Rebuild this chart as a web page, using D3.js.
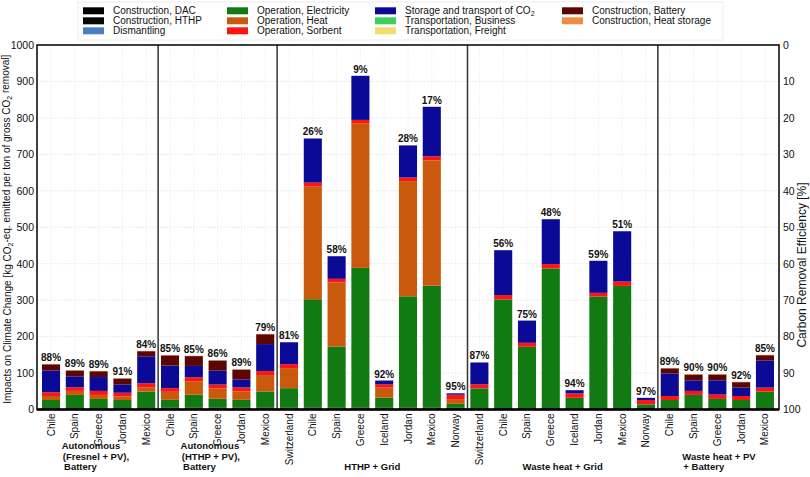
<!DOCTYPE html>
<html><head><meta charset="utf-8">
<script src="https://cdn.jsdelivr.net/npm/d3@7"></script>
<style>
html,body{margin:0;padding:0;background:#fff;}
svg{display:block;font-family:"Liberation Sans",Arial,sans-serif;}
</style></head>
<body><svg id="chart" width="810" height="477"></svg>
<script>
// ---------- DATA ----------
const categories = [
  "Chile","Spain","Greece","Jordan","Mexico",
  "Chile","Spain","Greece","Jordan","Mexico",
  "Switzerland","Chile","Spain","Greece","Iceland","Jordan","Mexico","Norway",
  "Switzerland","Chile","Spain","Greece","Iceland","Jordan","Mexico","Norway",
  "Chile","Spain","Greece","Jordan","Mexico"
];
const groupSizes = [5, 5, 8, 8, 5];
const groupLabels = [
  ["Autonomous", "(Fresnel + PV),", "Battery"],
  ["Autonomous", "(HTHP + PV),", "Battery"],
  ["HTHP + Grid"],
  ["Waste heat + Grid"],
  ["Waste heat + PV", "+ Battery"]
];
const constructionDAC = [4,4,4,4,4, 4,4,4,4,4, 4,4,4,4,4,4,4,4, 4,4,4,4,4,4,4,4, 4,4,4,4,4];
const constructionHTHP = [0,0,0,0,0, 0.5,0.5,0.5,0.5,0.5, 0.5,0.5,0.5,0.5,0.5,0.5,0.5,0.5, 0,0,0,0,0,0,0,0, 0,0,0,0,0];
const dismantling = [0,0,0,0,0, 0,0,0,0,0, 0,0,0,0,0,0,0,0, 0,0,0,0,0,0,0,0, 0,0,0,0,0];
const opElectricity = [22,36,25,22,45, 22,36,25,22,45, 54,298,168,384,28,306,335,11, 54,298,168,383,28,306,335,10, 22,36,25,22,45];
const opHeat = [11,11,11,10,12, 22,37,28,23,45, 55,309,176,397,28,316,344,13, 0,0,0,0,0,0,0,0, 0,0,0,0,0];
const opSorbent = [10,10,11,10,11, 10,11,11,11,11, 11,11,10,9,9,10,11,12, 11,12,11,12,12,10,12,12, 11,11,12,11,11];
const storageCO2 = [60,30,38,23,74, 62,31,38,22,74, 60,121,62,121,10,88,136,4, 60,123,61,123,9,88,138,6, 62,29,39,23,74];
const transBusiness = [0,0,0,0,0, 0,0,0,0,0, 0,0,0,0,0,0,0,0, 0,0,0,0,0,0,0,0, 0,0,0,0,0];
const transFreight = [0,0,0,0,0, 0,0,0,0,0, 0,0,0,0,0,0,0,0, 0,0,0,0,0,0,0,0, 0,0,0,0,0];
const constructionBattery = [17,16,16,16,14, 28,27,28,27,27, 0,0,0,0,0,0,0,0, 0,0,0,0,0,0,0,0, 14,16,16,15,15];
const constructionHeatStorage = [1,1,1,1,1, 1,1,1,1,1, 0,0,0,0,0,0,0,0, 0,0,0,0,0,0,0,0, 1,1,1,1,1];
const efficiency = [88,89,89,91,84, 85,85,86,89,79, 81,26,58,9,92,28,17,95, 87,56,75,48,94,59,51,97, 89,90,90,92,85];
const leftTicks = [0,100,200,300,400,500,600,700,800,900,1000];
const rightTicks = [0,10,20,30,40,50,60,70,80,90,100];

const seriesNames = ["Construction, DAC","Construction, HTHP","Dismantling","Operation, Electricity","Operation, Heat","Operation, Sorbent","Storage and transport of CO2","Transportation, Business","Transportation, Freight","Construction, Battery","Construction, Heat storage"];
const seriesValues = [constructionDAC,constructionHTHP,dismantling,opElectricity,opHeat,opSorbent,storageCO2,transBusiness,transFreight,constructionBattery,constructionHeatStorage];
const seriesColors = ["#000000","#080808","#4a7fbf","#127a12","#c9590c","#ff1414","#0a0a96","#3ccf5a","#f5dc70","#5c0505","#f08c42"];
const legendColumns = [[0,1,2],[3,4,5],[6,7,8],[9,10]];

// ---------- LAYOUT ----------
const L = 37, R = 779, T = 45, B = 409.5;
const svg = d3.select("#chart");
const x = d3.scaleBand().domain(d3.range(categories.length)).range([L, R]).paddingInner(0.24).paddingOuter(0.21);
const y = d3.scaleLinear().domain([0, 1000]).range([B, T]);
const yR = d3.scaleLinear().domain([0, 100]).range([T, B]);

// grid
const grid = svg.append("g");
grid.selectAll("line.h").data(leftTicks).join("line")
  .attr("x1", L).attr("x2", R).attr("y1", d => y(d)).attr("y2", d => y(d))
  .attr("stroke", "#e6e6e6").attr("stroke-width", 0.8).attr("stroke-dasharray", "2,1");
grid.selectAll("line.v").data(d3.range(categories.length)).join("line")
  .attr("x1", i => x(i) + x.bandwidth()/2).attr("x2", i => x(i) + x.bandwidth()/2)
  .attr("y1", T).attr("y2", B)
  .attr("stroke", "#efefef").attr("stroke-width", 0.8).attr("stroke-dasharray", "2,1");

// stacked data
const rows = categories.map((c, i) => {
  const o = {i};
  seriesNames.forEach((s, k) => o[s] = seriesValues[k][i]);
  return o;
});
const stack = d3.stack().keys(seriesNames)(rows);
const bars = svg.append("g");
stack.forEach((layer, k) => {
  bars.append("g").attr("fill", seriesColors[k])
    .selectAll("rect").data(layer.filter(d => d[1] - d[0] > 0)).join("rect")
    .attr("x", d => x(d.data.i)).attr("width", x.bandwidth())
    .attr("y", d => y(d[1])).attr("height", d => y(d[0]) - y(d[1]));
});

// totals & efficiency labels
const totals = rows.map((r, i) => d3.sum(seriesValues, s => s[i]));
svg.append("g").selectAll("text").data(efficiency).join("text")
  .attr("x", (d, i) => x(i) + x.bandwidth()/2)
  .attr("y", (d, i) => y(totals[i]) - 3)
  .attr("text-anchor", "middle").attr("font-size", 10).attr("font-weight", "bold").attr("fill", "#111")
  .text(d => d + "%");

// group separators
const bounds = d3.cumsum(groupSizes);
const sepX = Array.from(bounds).slice(0, -1).map(b => (x(b - 1) + x.bandwidth() + x(b)) / 2);
svg.append("g").selectAll("line").data(sepX).join("line")
  .attr("x1", d => d).attr("x2", d => d).attr("y1", T).attr("y2", B)
  .attr("stroke", "#333").attr("stroke-width", 1.5);

// spines
svg.append("rect").attr("x", L).attr("y", T).attr("width", R - L).attr("height", B - T)
  .attr("fill", "none").attr("stroke", "#000").attr("stroke-width", 1.5);
svg.append("line").attr("x1", L).attr("x2", R).attr("y1", B).attr("y2", B).attr("stroke", "#000").attr("stroke-width", 2.5);

// axes
const ax = svg.append("g").attr("transform", `translate(${L},0)`)
  .call(d3.axisLeft(y).tickValues(leftTicks).tickFormat(d3.format("d")).tickSize(0).tickPadding(3));
ax.select(".domain").remove();
ax.selectAll("text").attr("font-size", 10.5).attr("fill", "#111").attr("font-family", "Liberation Sans, Arial, sans-serif");
const axr = svg.append("g").attr("transform", `translate(${R},0)`)
  .call(d3.axisRight(yR).tickValues(rightTicks).tickFormat(d3.format("d")).tickSize(0).tickPadding(4));
axr.select(".domain").remove();
axr.selectAll("text").attr("font-size", 10.5).attr("fill", "#111").attr("font-family", "Liberation Sans, Arial, sans-serif");

// x labels
svg.append("g").selectAll("text").data(categories).join("text")
  .attr("transform", (d, i) => `translate(${x(i) + x.bandwidth()/2},${B + 4}) rotate(-90)`)
  .attr("text-anchor", "end").attr("dy", "0.35em").attr("font-size", 10).attr("fill", "#111")
  .text(d => d);

// group labels
const starts = [0, ...Array.from(bounds).slice(0, -1)];
groupLabels.forEach((lines, g) => {
  const cx = (x(starts[g]) + x(bounds[g] - 1) + x.bandwidth()) / 2;
  const lastY = 470;
  const multi = lines.length > 1;
  const t = svg.append("text").attr("font-size", 9.5).attr("font-weight", "bold").attr("fill", "#111");
  lines.forEach((ln, j) => {
    t.append("tspan").attr("x", multi ? cx - (g === 4 ? 35 : 37) + (g === 4 ? (j === 1 ? 1 : 0) : j * 1.2) : cx)
      .attr("y", lastY - (lines.length - 1 - j) * 10.5)
      .attr("text-anchor", multi ? "start" : "middle").text(ln);
  });
});

// axis titles
const lt = svg.append("text").attr("transform", `translate(11,${(T + B)/2 + 2}) rotate(-90)`)
  .attr("text-anchor", "middle").attr("font-size", 10).attr("fill", "#111");
lt.append("tspan").text("Impacts on Climate Change [kg CO");
lt.append("tspan").attr("font-size", 7).attr("dy", "0.3em").text("2");
lt.append("tspan").attr("dy", "-0.3em").text("-eq. emitted per ton of gross CO");
lt.append("tspan").attr("font-size", 7).attr("dy", "0.3em").text("2");
lt.append("tspan").attr("dy", "-0.3em").text(" removal]");

svg.append("text").attr("transform", `translate(806,265) rotate(-90)`)
  .attr("text-anchor", "middle").attr("font-size", 12).attr("fill", "#111")
  .text("Carbon Removal Efficiency [%]");

// legend
const lg = svg.append("g");
lg.append("rect").attr("x", 78).attr("y", 2).attr("width", 645).attr("height", 38)
  .attr("fill", "#fff").attr("stroke", "#ececec").attr("stroke-width", 1);
const colX = [83, 227, 375, 562];
legendColumns.forEach((col, c) => {
  col.forEach((k, r) => {
    const yy = 7.3 + r * 10;
    lg.append("rect").attr("x", colX[c]).attr("y", yy).attr("width", 21).attr("height", 7).attr("fill", seriesColors[k]);
    const t = lg.append("text").attr("x", colX[c] + 30).attr("y", yy + 3.5).attr("dy", "0.35em")
      .attr("font-size", 10).attr("fill", "#111");
    if (k === 6) {
      t.append("tspan").text("Storage and transport of CO");
      t.append("tspan").attr("font-size", 7).attr("dy", "0.3em").text("2");
    } else {
      t.text(seriesNames[k]);
    }
  });
});
</script></body></html>
